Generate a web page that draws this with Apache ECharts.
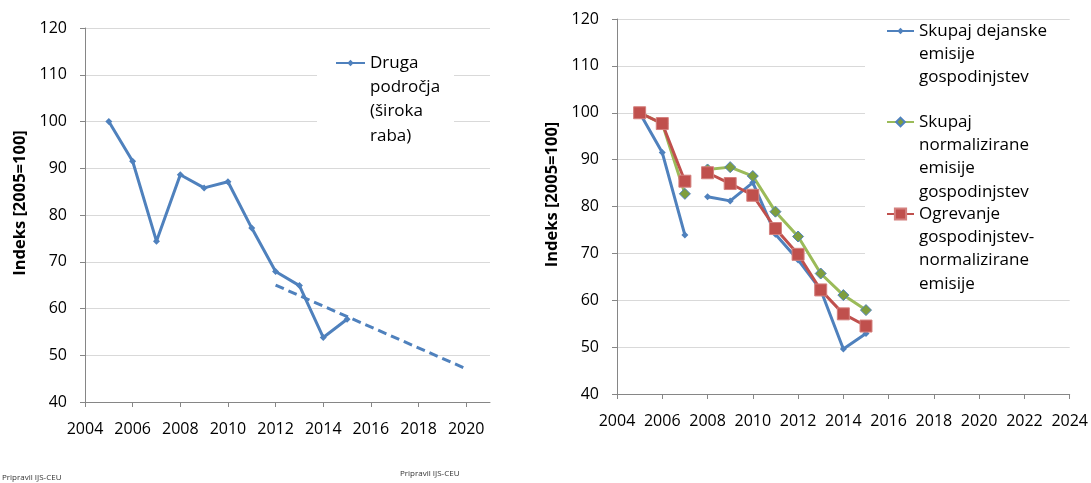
<!DOCTYPE html>
<html>
<head>
<meta charset="utf-8">
<script src="https://cdn.jsdelivr.net/npm/echarts@6/dist/echarts.min.js"></script>
<style>
  html, body { margin: 0; padding: 0; background: #fff; }
  #chart { width: 1091px; height: 483px; }
</style>
</head>
<body>
<div id="chart"></div>
<script>
// Left panel: "Druga področja (široka raba)"
const leftYears = [2005, 2006, 2007, 2008, 2009, 2010, 2011, 2012, 2013, 2014, 2015];
const leftValues = [100, 91.5, 74.4, 88.6, 85.8, 87.1, 77.2, 67.9, 64.9, 53.8, 57.7];
const trendYears = [2012, 2020];
const trendValues = [65.0, 47.1];
const leftTicks = [2004, 2006, 2008, 2010, 2012, 2014, 2016, 2018, 2020];

// Right panel: households
const rightYears = [2005, 2006, 2007, 2008, 2009, 2010, 2011, 2012, 2013, 2014, 2015];
const actualTotal = [100, 91.5, 73.9, 82.1, 81.2, 85.1, 74.1, 68.6, 62.2, 49.6, 52.9];
const normalizedTotal = [100, 97.7, 82.7, 87.9, 88.4, 86.5, 78.9, 73.6, 65.7, 61.1, 57.9];
const heatingNormalized = [100, 97.7, 85.4, 87.2, 84.9, 82.4, 75.3, 69.8, 62.2, 57.1, 54.5];
const rightTicks = [2004, 2006, 2008, 2010, 2012, 2014, 2016, 2018, 2020, 2022, 2024];
const breakAfter = 2007; // series are interrupted between 2007 and 2008

const leftName = 'Druga področja (široka raba)';
const rightNames = [
  'Skupaj dejanske emisije gospodinjstev',
  'Skupaj normalizirane emisije gospodinjstev',
  'Ogrevanje gospodinjstev-normalizirane emisije'
];
const legendLines = {
  [leftName]: ['Druga', 'področja', '(široka', 'raba)'],
  [rightNames[0]]: ['Skupaj dejanske', 'emisije', 'gospodinjstev'],
  [rightNames[1]]: ['Skupaj', 'normalizirane', 'emisije', 'gospodinjstev'],
  [rightNames[2]]: ['Ogrevanje', 'gospodinjstev-', 'normalizirane', 'emisije']
};

const BLUE = '#4F81BD', RED = '#C0504D', GREEN = '#9BBB59';
const FONT = '"Open Sans", "Noto Sans", sans-serif';

function pairs(xs, ys) { return xs.map((x, i) => [x, ys[i]]); }
function withBreak(xs, ys) {
  const out = [];
  xs.forEach((x, i) => {
    out.push([x, ys[i]]);
    if (x === breakAfter) out.push([x + 0.5, '-']);
  });
  return out;
}

function yAxisCfg(gridIndex) {
  return {
    type: 'value', gridIndex, min: 40, max: 120, interval: 10,
    name: 'Indeks [2005=100]', nameLocation: 'middle', nameGap: 56,
    nameTextStyle: { fontFamily: FONT, fontSize: 16.5, fontWeight: 'bold', color: '#000', padding: [0, 0, 0, 24] },
    axisLine: { show: true, lineStyle: { color: '#868686', width: 1 } },
    axisTick: { show: true, length: 5, lineStyle: { color: '#868686' } },
    axisLabel: { fontFamily: FONT, fontSize: 16, color: '#000', margin: 18 },
    splitLine: { show: true, lineStyle: { color: '#D9D9D9', width: 1 } }
  };
}
function xAxisCfg(gridIndex, max, ticks) {
  return {
    type: 'value', gridIndex, min: 2004, max, interval: 2,
    axisLine: { show: true, lineStyle: { color: '#868686', width: 1 } },
    axisTick: { show: true, length: 5, lineStyle: { color: '#868686' }, customValues: ticks },
    axisLabel: { fontFamily: FONT, fontSize: 16, color: '#000', margin: 19, customValues: ticks,
                 formatter: v => String(v) },
    splitLine: { show: false }
  };
}

// One legend per series; leading empty lines put the marker beside the first text line
const LH_LEFT = 24.3, LH_RIGHT = 23.3;
function legendCfg(name, left, iconY, lh, itemWidth, itemHeight) {
  const lines = legendLines[name];
  const n = lines.length;
  return {
    data: [name], orient: 'vertical', left, top: iconY - (2 * n - 1) * lh / 2,
    padding: 0, itemWidth, itemHeight, selectedMode: false,
    formatter: () => '\n'.repeat(n - 1) + lines.join('\n'),
    textStyle: { fontFamily: FONT, fontSize: 17, color: '#000', lineHeight: lh }
  };
}

const option = {
  animation: false,
  backgroundColor: '#fff',
  title: [
    { text: 'Pripravil IJS-CEU', left: 2, top: 474, padding: 0,
      textStyle: { fontFamily: FONT, fontSize: 8, fontWeight: 'normal', color: '#333' } },
    { text: 'Pripravil IJS-CEU', left: 400, top: 470, padding: 0,
      textStyle: { fontFamily: FONT, fontSize: 8, fontWeight: 'normal', color: '#333' } }
  ],
  grid: [
    { left: 85, top: 28, width: 405, height: 374 },
    { left: 617, top: 19, width: 453, height: 375 }
  ],
  xAxis: [xAxisCfg(0, 2021, leftTicks), xAxisCfg(1, 2024, rightTicks)],
  yAxis: [yAxisCfg(0), yAxisCfg(1)],
  legend: [
    legendCfg(leftName, 335, 63, LH_LEFT, 29, 8),
    legendCfg(rightNames[0], 886, 31, LH_RIGHT, 27, 8),
    legendCfg(rightNames[1], 886, 122, LH_RIGHT, 27, 11),
    legendCfg(rightNames[2], 886, 214, LH_RIGHT, 27, 14)
  ],
  // white panels behind the legends, covering the gridlines there
  graphic: [
    { type: 'rect', z: 1, silent: true, shape: { x: 317, y: 36, width: 137, height: 118 }, style: { fill: '#fff' } },
    { type: 'rect', z: 1, silent: true, shape: { x: 865, y: 22, width: 206, height: 275 }, style: { fill: '#fff' } }
  ],
  series: [
    {
      name: leftName, type: 'line', xAxisIndex: 0, yAxisIndex: 0,
      data: pairs(leftYears, leftValues),
      symbol: 'diamond', symbolSize: 7,
      lineStyle: { color: BLUE, width: 3 }, itemStyle: { color: BLUE }
    },
    {
      name: 'trend', type: 'line', xAxisIndex: 0, yAxisIndex: 0,
      data: pairs(trendYears, trendValues),
      symbol: 'none',
      lineStyle: { color: BLUE, width: 3, type: [9, 5] }, itemStyle: { color: BLUE }
    },
    {
      name: rightNames[0], type: 'line', xAxisIndex: 1, yAxisIndex: 1,
      data: withBreak(rightYears, actualTotal), connectNulls: false,
      symbol: 'diamond', symbolSize: 7,
      lineStyle: { color: BLUE, width: 3 }, itemStyle: { color: BLUE }
    },
    {
      name: rightNames[1], type: 'line', xAxisIndex: 1, yAxisIndex: 1,
      data: withBreak(rightYears, normalizedTotal), connectNulls: false,
      symbol: 'diamond', symbolSize: 11,
      lineStyle: { color: GREEN, width: 3 },
      itemStyle: { color: '#7E9E3E', borderColor: BLUE, borderWidth: 1 }
    },
    {
      name: rightNames[2], type: 'line', xAxisIndex: 1, yAxisIndex: 1,
      data: withBreak(rightYears, heatingNormalized), connectNulls: false,
      symbol: 'rect', symbolSize: 12,
      lineStyle: { color: RED, width: 3 },
      itemStyle: { color: RED, borderColor: '#D4807E', borderWidth: 1 }
    }
  ]
};

const chart = echarts.init(document.getElementById('chart'), null, { renderer: 'canvas' });
chart.setOption(option);
</script>
</body>
</html>
